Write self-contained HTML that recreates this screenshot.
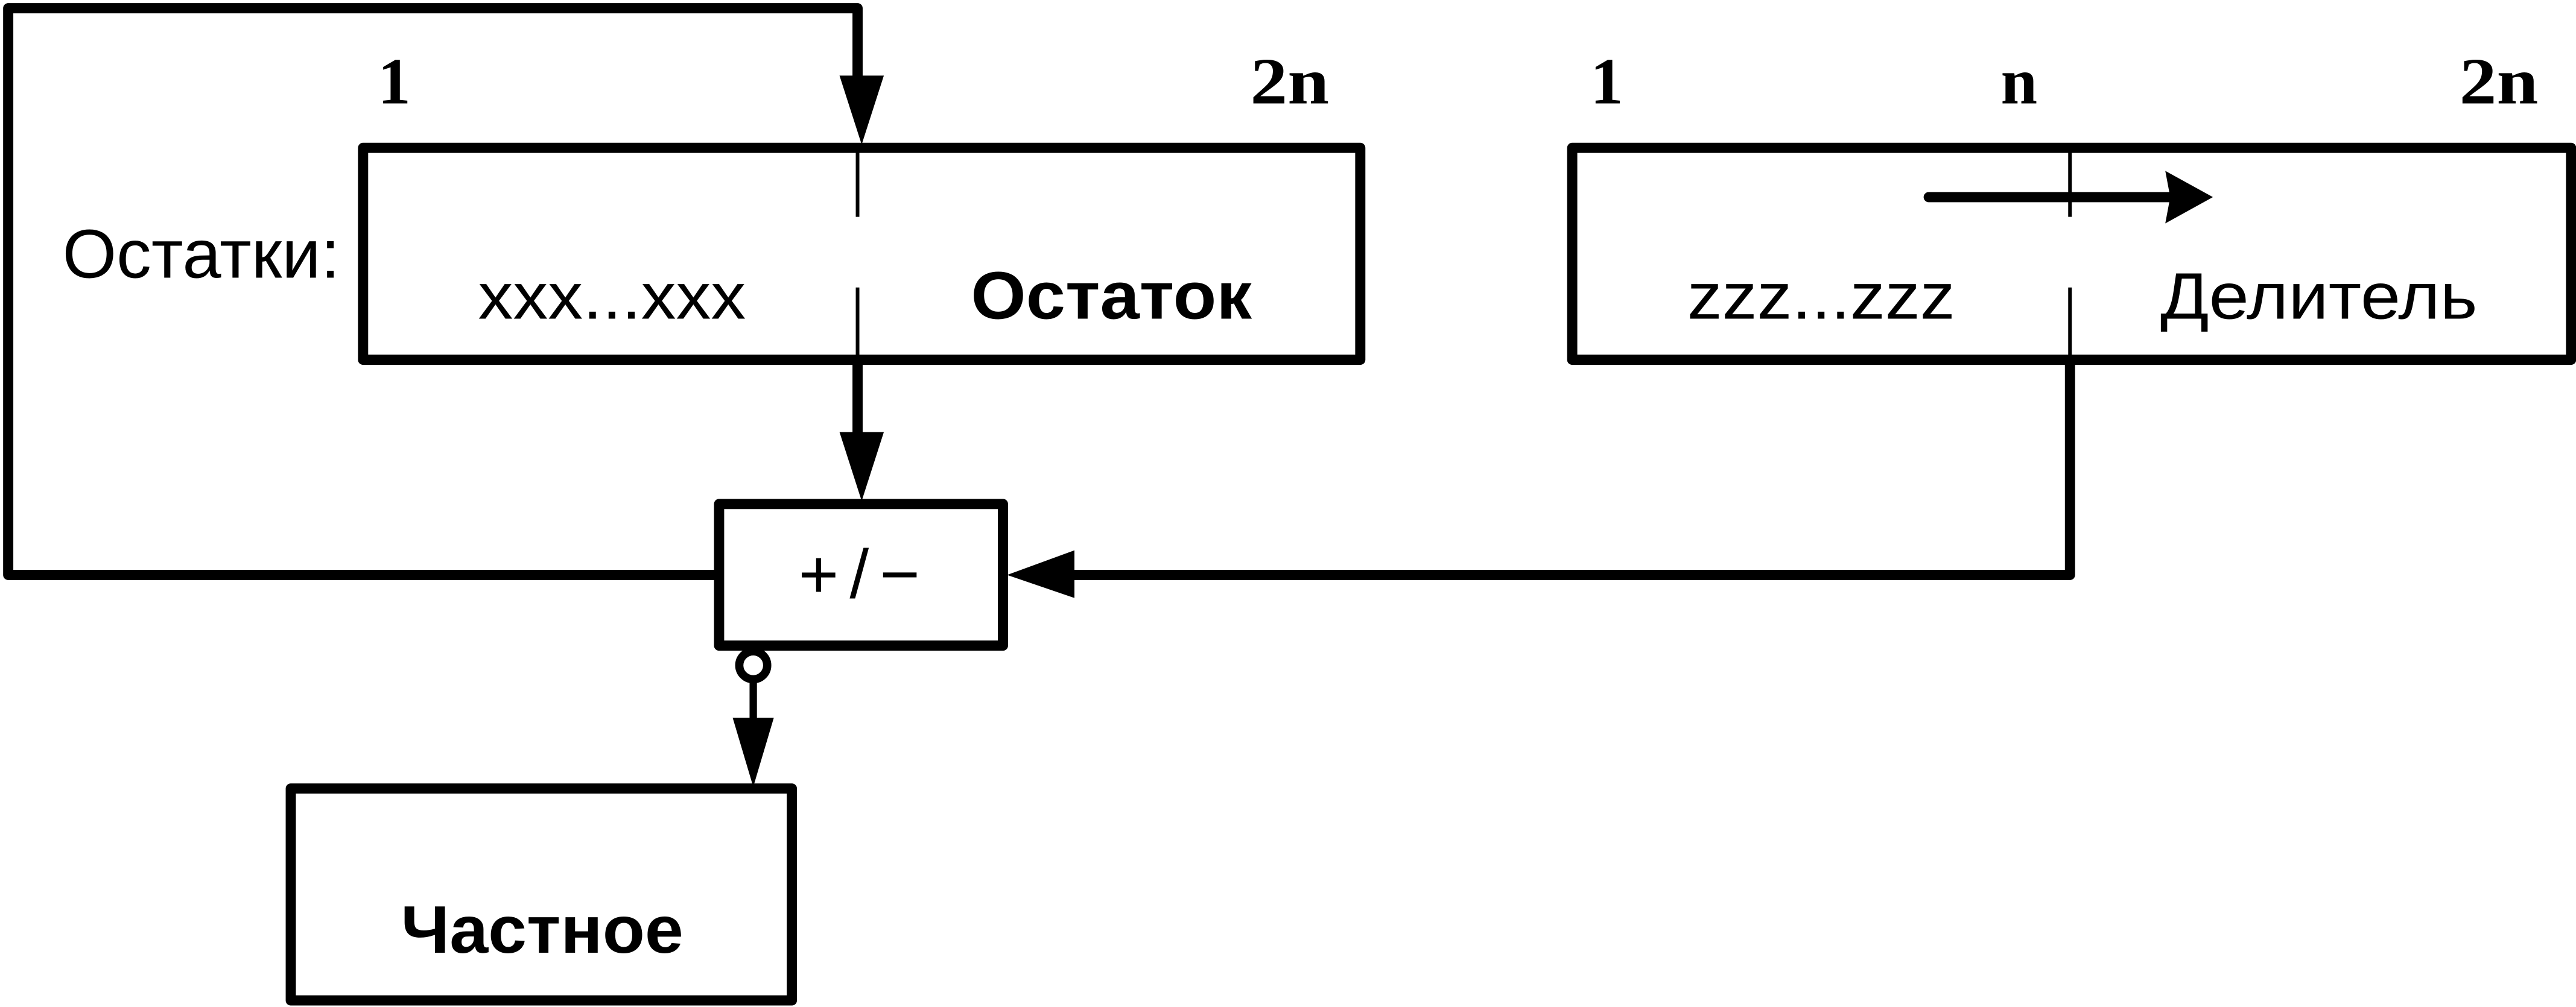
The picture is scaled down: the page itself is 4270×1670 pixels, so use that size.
<!DOCTYPE html>
<html><head><meta charset="utf-8"><style>
html,body{margin:0;padding:0;background:#fff;}
svg{display:block;}
</style></head><body>
<svg width="4270" height="1670" viewBox="0 0 1568 613" preserveAspectRatio="none" xmlns="http://www.w3.org/2000/svg">
<g fill="none" stroke="#000" stroke-width="6.2" stroke-linejoin="round" stroke-linecap="round">
  <polyline points="437,350 5,350 5,5 522,5 522,50"/>
  <rect x="221" y="90" width="607" height="129"/>
  <rect x="957" y="90" width="608" height="129"/>
  <rect x="437.7" y="306.8" width="172.8" height="86.2"/>
  <rect x="177" y="480" width="305" height="129"/>
  <line x1="522" y1="219" x2="522" y2="266"/>
  <polyline points="1260,219 1260,350 650,350"/>
  <line x1="1174" y1="120" x2="1322" y2="120"/>
</g>
<g stroke="#000" stroke-width="2.2">
  <line x1="522" y1="90" x2="522" y2="132"/>
  <line x1="522" y1="175" x2="522" y2="219"/>
  <line x1="1260" y1="90" x2="1260" y2="132"/>
  <line x1="1260" y1="175" x2="1260" y2="219"/>
</g>
<g fill="#000">
  <polygon points="511,46 538,46 524.5,88"/>
  <polygon points="511,263 538,263 524.5,305"/>
  <polygon points="654,335 654,364 613,350"/>
  <polygon points="1318,104 1347,120 1318,136 1321,120"/>
  <polygon points="446,437 471,437 458.5,479"/>
</g>
<line x1="458.5" y1="412" x2="458.5" y2="440" stroke="#000" stroke-width="4.5"/>
<circle cx="458.5" cy="405" r="8.5" fill="#fff" stroke="#000" stroke-width="5"/>
<g font-family="'Liberation Serif', serif" font-weight="bold" font-size="40" fill="#000">
  <text x="240" y="63" text-anchor="middle">1</text>
  <text x="785" y="63" text-anchor="middle" textLength="48" lengthAdjust="spacingAndGlyphs">2n</text>
  <text x="978" y="63" text-anchor="middle">1</text>
  <text x="1229" y="63" text-anchor="middle">n</text>
  <text x="1521" y="63" text-anchor="middle" textLength="48" lengthAdjust="spacingAndGlyphs">2n</text>
</g>
<g font-family="'Liberation Sans', 'Noto Sans CJK SC', sans-serif" fill="#000">
  <text x="38" y="169" font-size="42" textLength="169" lengthAdjust="spacingAndGlyphs">Остатки:</text>
  <text x="291" y="194" font-size="40" textLength="163" lengthAdjust="spacingAndGlyphs">xxx...xxx</text>
  <text x="591" y="194" font-size="41" font-weight="bold" textLength="171" lengthAdjust="spacingAndGlyphs">Остаток</text>
  <text x="1027" y="194" font-size="40" textLength="163" lengthAdjust="spacingAndGlyphs">zzz...zzz</text>
  <text x="1315" y="194" font-size="40" textLength="193" lengthAdjust="spacingAndGlyphs">Делитель</text>
  <text x="244" y="580" font-size="41" font-weight="bold" textLength="172" lengthAdjust="spacingAndGlyphs">Частное</text>
  <text x="486" y="364" font-size="42" textLength="74" lengthAdjust="spacing">+/−</text>
</g>
</svg>
</body></html>
